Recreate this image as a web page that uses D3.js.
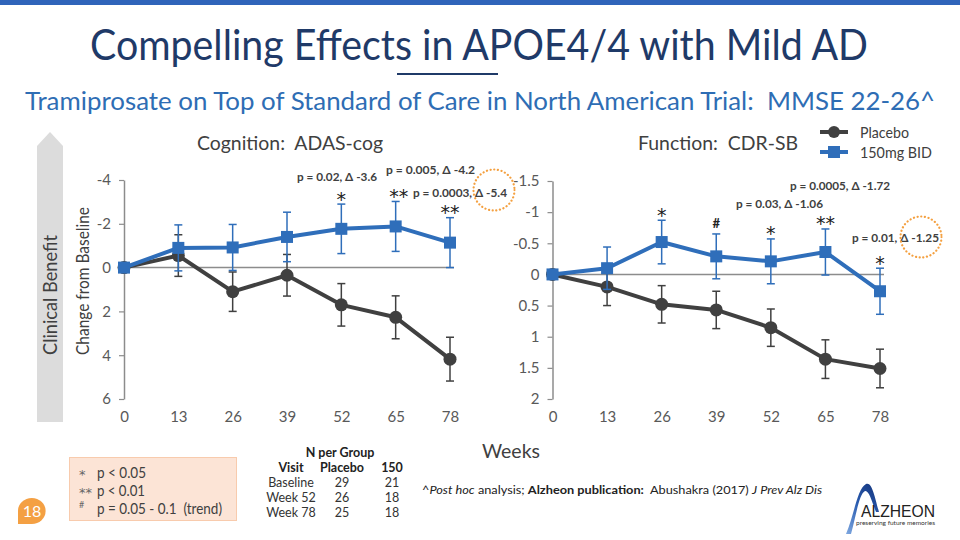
<!DOCTYPE html>
<html><head><meta charset="utf-8">
<script src="https://cdn.jsdelivr.net/npm/d3@7"></script>
<style>
html,body{margin:0;padding:0;background:#fff;}
svg{display:block;font-family:Lato,"Open Sans",sans-serif;white-space:pre;}
</style></head>
<body>
<svg id="c" width="960" height="540"></svg>
<script>
// ---------- data ----------
const weeks = [0, 13, 26, 39, 52, 65, 78];
const adasPlacebo    = [0, -0.55, 1.10, 0.35, 1.70, 2.27, 4.18];
const adasPlaceboErr = [0, 0.95, 0.90, 0.95, 0.97, 0.98, 1.00];
const adasDrug       = [0, -0.90, -0.92, -1.40, -1.77, -1.88, -1.14];
const adasDrugErr    = [0, 1.05, 1.05, 1.13, 1.13, 1.14, 1.14];
const adasSig        = ["", "", "", "", "*", "**", "**"];
const cdrPlacebo     = [0, 0.20, 0.48, 0.57, 0.855, 1.36, 1.51];
const cdrPlaceboErr  = [0, 0.30, 0.30, 0.30, 0.30, 0.31, 0.31];
const cdrDrug        = [0, -0.10, -0.52, -0.29, -0.21, -0.36, 0.27];
const cdrDrugErr     = [0, 0.34, 0.35, 0.36, 0.36, 0.37, 0.37];
const cdrSig         = ["", "", "*", "#", "*", "**", "*"];
const adasTicks = [-4, -2, 0, 2, 4, 6];
const cdrTicks  = [-1.5, -1, -0.5, 0, 0.5, 1, 1.5, 2];
const adasNotes = ["p = 0.02, \u0394 -3.6", "p = 0.005, \u0394 -4.2", "p = 0.0003, \u0394 -5.4"];
const cdrNotes  = ["p = 0.0005, \u0394 -1.72", "p = 0.03, \u0394 -1.06", "p = 0.01, \u0394 -1.25"];
const seriesNames = ["Placebo", "150mg BID"];
const sigLegend = [["*", "p < 0.05"], ["**", "p < 0.01"], ["#", "p = 0.05 - 0.1 \u00A0(trend)"]];
const tableHead = ["Visit", "Placebo", "150"];
const tableRows = [["Baseline", "29", "21"], ["Week 52", "26", "18"], ["Week 78", "25", "18"]];

// ---------- setup ----------
const svg = d3.select("#c");
const BLUE = "#2F6EBA", GRAY = "#404040", AXIS = "#8C8C8C", NAVY = "#1F3A68";
const STAR = "DejaVu Sans";
function fit(sel, w) { return sel.attr("textLength", w).attr("lengthAdjust", "spacingAndGlyphs"); }

// top bar
svg.append("rect").attr("x", 0).attr("y", 0).attr("width", 960).attr("height", 5).attr("fill", "#2F64BA");

// title
fit(svg.append("text").attr("x", 90).attr("y", 60).attr("font-size", 42).attr("fill", NAVY)
  .text("Compelling Effects in APOE4/4 with Mild AD"), 778);
svg.append("line").attr("x1", 397).attr("x2", 498).attr("y1", 74).attr("y2", 74)
  .attr("stroke", NAVY).attr("stroke-width", 2);
fit(svg.append("text").attr("x", 25).attr("y", 110).attr("font-size", 25).attr("fill", "#2E6DB4")
  .text("Tramiprosate on Top of Standard of Care in North American Trial: \u00A0MMSE 22-26^"), 910);

// clinical benefit arrow
svg.append("path").attr("d", "M37,422 L37,146 L50,132 L63,146 L63,422 Z").attr("fill", "#DCDCDC");
fit(svg.append("text").attr("transform", "translate(57,295) rotate(-90)").attr("text-anchor", "middle")
  .attr("font-size", 19).attr("fill", GRAY).text("Clinical Benefit"), 120);
fit(svg.append("text").attr("transform", "translate(89,281) rotate(-90)").attr("text-anchor", "middle")
  .attr("font-size", 17).attr("fill", GRAY).text("Change from Baseline"), 148);

// ---------- panel drawer ----------
function panel(opt) {
  const x = d3.scaleLinear().domain([0, 78]).range(opt.xr);
  const y = d3.scaleLinear().domain(opt.yd).range([opt.yTop, 399]);
  const g = svg.append("g");
  const ya = g.append("g").attr("transform", `translate(${opt.xr[0]},0)`)
    .call(d3.axisLeft(y).tickValues(opt.ticks).tickSize(5).tickSizeOuter(0).tickPadding(8)
      .tickFormat(d => String(d)));
  ya.select(".domain").attr("stroke", AXIS).attr("stroke-width", 1.5);
  ya.selectAll(".tick line").attr("stroke", AXIS).attr("stroke-width", 1.2);
  ya.selectAll(".tick text").attr("font-size", 15).attr("fill", "#595959").attr("font-family", "Lato");
  const xa = g.append("g").attr("transform", "translate(0,405)")
    .call(d3.axisBottom(x).tickValues(weeks).tickSize(0).tickPadding(6));
  xa.select(".domain").remove();
  xa.selectAll(".tick text").attr("font-size", 15).attr("fill", "#595959").attr("font-family", "Lato");
  g.append("line").attr("x1", opt.xr[0]).attr("x2", opt.xr[1] + 4).attr("y1", y(0)).attr("y2", y(0))
    .attr("stroke", AXIS).attr("stroke-width", 1.5);

  function series(vals, errs, color, shape) {
    const pts = weeks.map((w, i) => ({ w, v: vals[i], e: errs[i] }));
    const eb = g.append("g").attr("stroke", color).attr("stroke-width", 1.5);
    pts.filter(p => p.e > 0).forEach(p => {
      eb.append("line").attr("x1", x(p.w)).attr("x2", x(p.w)).attr("y1", y(p.v - p.e)).attr("y2", y(p.v + p.e));
      [p.v - p.e, p.v + p.e].forEach(v => eb.append("line")
        .attr("x1", x(p.w) - 4).attr("x2", x(p.w) + 4).attr("y1", y(v)).attr("y2", y(v)));
    });
    g.append("path").datum(pts).attr("fill", "none").attr("stroke", color).attr("stroke-width", 4)
      .attr("stroke-linejoin", "round")
      .attr("d", d3.line().x(p => x(p.w)).y(p => y(p.v)));
    if (shape === "circle") {
      g.selectAll(null).data(pts).join("circle").attr("cx", p => x(p.w)).attr("cy", p => y(p.v))
        .attr("r", 6.5).attr("fill", color);
    } else {
      g.selectAll(null).data(pts).join("rect").attr("x", p => x(p.w) - 6).attr("y", p => y(p.v) - 6)
        .attr("width", 12).attr("height", 12).attr("fill", color);
    }
  }
  series(opt.pv, opt.pe, GRAY, "circle");
  series(opt.dv, opt.de, BLUE, "square");

  weeks.forEach((w, i) => {
    const s = opt.sig[i];
    if (!s) return;
    const top = y(opt.dv[i] - opt.de[i]);
    const t = g.append("text").attr("x", x(w) + (opt.sigDx ? opt.sigDx[i] : 0)).attr("text-anchor", "middle")
      .attr("fill", "#222").text(s);
    if (s === "#") t.attr("font-size", 13).attr("y", top - 6).attr("font-weight", 700);
    else t.attr("font-size", 19).attr("font-family", STAR).attr("y", top + 1.5);
  });
  return { x, y, g };
}

panel({ xr: [124, 450], yd: [-4, 6], yTop: 180, ticks: adasTicks,
  pv: adasPlacebo, pe: adasPlaceboErr, dv: adasDrug, de: adasDrugErr, sig: adasSig,
  sigDx: [0, 0, 0, 0, 0, 3, 0] });
panel({ xr: [552.5, 880], yd: [-1.5, 2], yTop: 181, ticks: cdrTicks,
  pv: cdrPlacebo, pe: cdrPlaceboErr, dv: cdrDrug, de: cdrDrugErr, sig: cdrSig });

// panel titles
fit(svg.append("text").attr("x", 197).attr("y", 150).attr("font-size", 19).attr("fill", GRAY)
  .text("Cognition: \u00A0ADAS-cog"), 186);
fit(svg.append("text").attr("x", 638).attr("y", 150).attr("font-size", 19).attr("fill", GRAY)
  .text("Function: \u00A0CDR-SB"), 160);
fit(svg.append("text").attr("x", 482).attr("y", 458).attr("font-size", 20).attr("fill", GRAY)
  .text("Weeks"), 58);

// p-value notes
function note(txt, x0, yb, w) {
  fit(svg.append("text").attr("x", x0).attr("y", yb).attr("font-size", 11).attr("font-weight", 700)
    .attr("fill", GRAY).text(txt), w);
}
note(adasNotes[0], 297, 180.5, 80);
note(adasNotes[1], 386, 174, 89);
note(adasNotes[2], 413, 196.5, 94);
note(cdrNotes[0], 790, 189.5, 100);
note(cdrNotes[1], 736, 208, 87);
note(cdrNotes[2], 852, 242, 87);

// dotted circles
[[494, 190], [921, 237]].forEach(c => svg.append("circle").attr("cx", c[0]).attr("cy", c[1]).attr("r", 20.5)
  .attr("fill", "none").attr("stroke", "#F4A040").attr("stroke-width", 2.2)
  .attr("stroke-dasharray", "0.1 3.6").attr("stroke-linecap", "round"));

// legend
const lg = svg.append("g");
lg.append("line").attr("x1", 820).attr("x2", 848).attr("y1", 132).attr("y2", 132).attr("stroke", GRAY).attr("stroke-width", 4);
lg.append("circle").attr("cx", 834).attr("cy", 132).attr("r", 6).attr("fill", GRAY);
lg.append("line").attr("x1", 820).attr("x2", 848).attr("y1", 152).attr("y2", 152).attr("stroke", BLUE).attr("stroke-width", 4);
lg.append("rect").attr("x", 828).attr("y", 146).attr("width", 12).attr("height", 12).attr("fill", BLUE);
fit(lg.append("text").attr("x", 860).attr("y", 138).attr("font-size", 16).attr("fill", GRAY).text(seriesNames[0]), 49);
fit(lg.append("text").attr("x", 860).attr("y", 158).attr("font-size", 16).attr("fill", GRAY).text(seriesNames[1]), 72);

// significance legend box
svg.append("rect").attr("x", 69.5).attr("y", 457.5).attr("width", 167).attr("height", 63)
  .attr("fill", "#FCE4D6").attr("stroke", "#F8CBAD").attr("stroke-width", 1);
const boxY = [478, 496, 514];
const boxW = [49, 48, 125];
sigLegend.forEach((r, i) => {
  const t = svg.append("text").attr("x", 79).attr("fill", "#666").text(r[0]);
  if (r[0] === "#") t.attr("y", boxY[i] - 6).attr("font-size", 9);
  else t.attr("y", boxY[i] + 1).attr("font-size", 13).attr("font-family", STAR);
  fit(svg.append("text").attr("x", 97).attr("y", boxY[i]).attr("font-size", 16).attr("fill", GRAY).text(r[1]), boxW[i]);
});

// slide number badge
svg.append("path").attr("d", "M18,524 L18,511 A13.8,13 0 1 1 31.8,524 Z").attr("fill", "#F4A043");
svg.append("text").attr("x", 32).attr("y", 517).attr("text-anchor", "middle").attr("font-size", 16)
  .attr("fill", "#fff").text("18");

// N per group table
svg.append("text").attr("x", 340).attr("y", 456.5).attr("text-anchor", "middle").attr("font-size", 12.5)
  .attr("font-weight", 700).attr("fill", "#222").text("N per Group");
const colX = [291, 342, 392];
tableHead.forEach((h, j) => svg.append("text").attr("x", colX[j]).attr("y", 472).attr("text-anchor", "middle")
  .attr("font-size", 12.5).attr("font-weight", 700).attr("fill", "#222").text(h));
tableRows.forEach((row, i) => row.forEach((c, j) => svg.append("text").attr("x", colX[j])
  .attr("y", 487 + i * 15).attr("text-anchor", "middle").attr("font-size", 12.5).attr("fill", "#333").text(c)));

// footnote
const fn = svg.append("text").attr("x", 422).attr("y", 494).attr("font-size", 12).attr("fill", "#222");
fn.append("tspan").text("^");
fn.append("tspan").attr("font-style", "italic").text("Post hoc");
fn.append("tspan").text(" analysis; ");
fn.append("tspan").attr("font-weight", 700).text("Alzheon publication:");
fn.append("tspan").text(" \u00A0Abushakra (2017) ");
fn.append("tspan").attr("font-style", "italic").text("J Prev Alz Dis");
fit(fn, 400);

// logo
const defs = svg.append("defs");
const gr = defs.append("linearGradient").attr("id", "lgGrad").attr("x1", "0").attr("y1", "1").attr("x2", "0.6").attr("y2", "0");
gr.append("stop").attr("offset", "0").attr("stop-color", "#7FA8E0");
gr.append("stop").attr("offset", "0.6").attr("stop-color", "#2A5CB0");
gr.append("stop").attr("offset", "1").attr("stop-color", "#1A3F8A");
svg.append("path").attr("d", "M846,534 C854,516 857,489 866,484 C872,481 875,498 879,512 L876,512 C872,502 869,490 865,491 C859,494 856,516 851,534 Z")
  .attr("fill", "url(#lgGrad)");
fit(svg.append("text").attr("x", 861).attr("y", 517).attr("font-size", 17).attr("fill", "#222")
  .attr("font-family", "Liberation Sans").text("ALZHEON"), 74);
fit(svg.append("text").attr("x", 856).attr("y", 524.5).attr("font-size", 5.5).attr("fill", "#333")
  .text("preserving future memories"), 79);
</script>
</body></html>
